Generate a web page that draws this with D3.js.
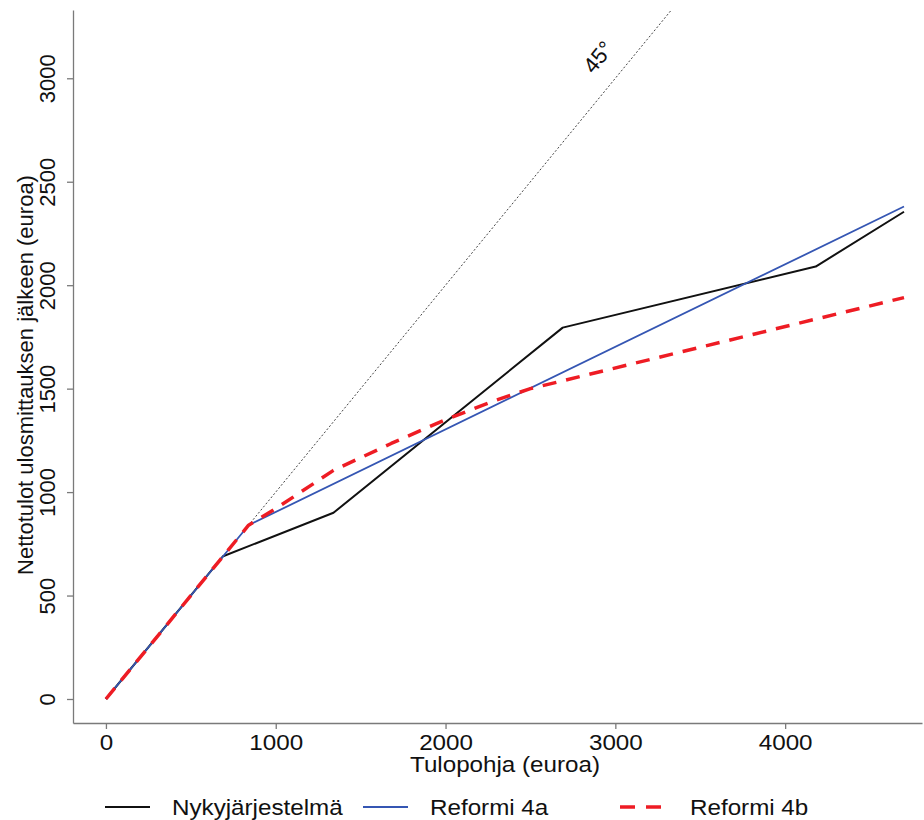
<!DOCTYPE html>
<html>
<head>
<meta charset="utf-8">
<script src="https://cdn.jsdelivr.net/npm/d3@7"></script>
<style>
	body { margin: 0; background: #fff; }
	svg { display: block; font-family: "Liberation Sans", Arial, sans-serif; }
</style>
</head>
<body>
<svg id="chart" width="924" height="820"></svg>
<script>
	// income base (x) and net income after enforcement (y), euros
	var nykyX = [0, 690, 1340, 2690, 4180, 4700];
	var nykyY = [0, 690, 900, 1795, 2090, 2355];
	var ref4aX = [0, 840, 4700];
	var ref4aY = [0, 840, 2380];
	var ref4bX = [0, 840, 1000, 1340, 1680, 2000, 2300, 2500, 4700];
	var ref4bY = [0, 840, 920, 1105, 1235, 1350, 1445, 1500, 1940];
	var diagX = [0, 3330];
	var xTicks = [0, 1000, 2000, 3000, 4000];
	var yTicks = [0, 500, 1000, 1500, 2000, 2500, 3000];
	var seriesNames = ['Nykyjärjestelmä', 'Reformi 4a', 'Reformi 4b'];

	var svg = d3.select('#chart');
	var fontSize = '22px';
	var stretch = 'scale(1.1,1)'; // the source picture is a little wider than tall

	var x = d3.scaleLinear().domain([-194, 4806]).range([73, 922]);
	var y = d3.scaleLinear().domain([-116, 3330]).range([723, 10]);

	function toPoints(xs, ys) {
		return xs.map(function(v, i) { return [v, ys[i]]; });
	}

	var line = d3.line()
		.x(function(d) { return x(d[0]); })
		.y(function(d) { return y(d[1]); });

	// Axes
	var xAxis = svg.append('g')
		.attr('transform', 'translate(0,' + y.range()[0] + ')')
		.call(d3.axisBottom(x).tickValues(xTicks).tickFormat(d3.format('d'))
			.tickSize(6).tickSizeOuter(0).tickPadding(5));
	var yAxis = svg.append('g')
		.attr('transform', 'translate(' + x.range()[0] + ',0)')
		.call(d3.axisLeft(y).tickValues(yTicks).tickFormat(d3.format('d'))
			.tickSize(6).tickSizeOuter(0));

	[xAxis, yAxis].forEach(function(g) {
		g.select('.domain').attr('stroke', '#7a7a7a').attr('stroke-width', 1.3);
		g.selectAll('.tick line').attr('stroke', '#7a7a7a').attr('stroke-width', 1.3);
		g.selectAll('.tick text')
			.attr('fill', '#111')
			.style('font-size', fontSize)
			.style('font-family', '"Liberation Sans", Arial, sans-serif');
	});

	xAxis.selectAll('.tick text').attr('transform', stretch);

	yAxis.selectAll('.tick text')
		.attr('transform', 'rotate(-90)')
		.attr('x', 0)
		.attr('y', -18)
		.attr('dy', 0)
		.attr('text-anchor', 'middle');

	svg.append('text')
		.attr('transform', 'translate(505,772) ' + stretch)
		.attr('text-anchor', 'middle')
		.attr('fill', '#111')
		.style('font-size', fontSize)
		.text('Tulopohja (euroa)');

	svg.append('text')
		.attr('transform', 'translate(33,375) rotate(-90)')
		.attr('text-anchor', 'middle')
		.attr('fill', '#111')
		.style('font-size', fontSize)
		.text('Nettotulot ulosmittauksen jälkeen (euroa)');

	// 45 degree line
	svg.append('path')
		.datum(toPoints(diagX, diagX))
		.attr('fill', 'none')
		.attr('stroke', '#444')
		.attr('stroke-width', 1)
		.attr('stroke-dasharray', '2,2')
		.attr('d', line);

	svg.append('text')
		.attr('transform', 'translate(' + x(2898) + ',' + y(3103) + ') rotate(-50.6)')
		.attr('text-anchor', 'middle')
		.attr('dy', '0.35em')
		.attr('fill', '#111')
		.style('font-size', fontSize)
		.text('45°');

	var series = [
		{ name: seriesNames[0], pts: toPoints(nykyX, nykyY), color: '#111111', width: 2, dash: null },
		{ name: seriesNames[1], pts: toPoints(ref4aX, ref4aY), color: '#3556b3', width: 1.8, dash: null },
		{ name: seriesNames[2], pts: toPoints(ref4bX, ref4bY), color: '#ee1c24', width: 3.5, dash: '14,10' }
	];

	series.forEach(function(s) {
		svg.append('path')
			.datum(s.pts)
			.attr('fill', 'none')
			.attr('stroke', s.color)
			.attr('stroke-width', s.width)
			.attr('stroke-linejoin', 'round')
			.attr('stroke-dasharray', s.dash)
			.attr('d', line);
	});

	// Legend
	var legendX = [105, 363, 620];
	var legend = svg.append('g');
	series.forEach(function(s, i) {
		legend.append('line')
			.attr('x1', legendX[i])
			.attr('x2', legendX[i] + 45)
			.attr('y1', 807)
			.attr('y2', 807)
			.attr('stroke', s.color)
			.attr('stroke-width', s.width)
			.attr('stroke-dasharray', s.dash ? '15,11' : null);
		legend.append('text')
			.attr('transform', 'translate(' + (legendX[i] + (i === 2 ? 70 : 67)) + ',815) ' + stretch)
			.attr('fill', '#111')
			.style('font-size', fontSize)
			.text(s.name);
	});
</script>
</body>
</html>
